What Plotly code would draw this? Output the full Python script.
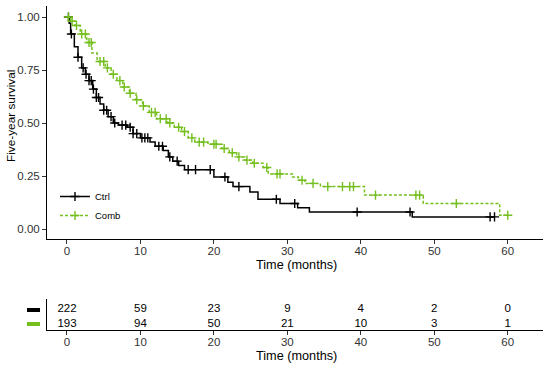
import plotly.graph_objects as go

# ---------------- data ----------------
groups = ["Ctrl", "Comb"]
colors = {"Ctrl": "#000000", "Comb": "#74BF1E"}

# Kaplan-Meier steps: event times (months) and survival after each drop
ctrl_times = [0.3, 0.5, 1.0, 1.5, 2.0, 2.5, 3.0, 3.5, 4.0, 4.5, 5.0, 5.6, 6.3, 7.0, 8.2, 9.0, 10.0,
              11.3, 12.0, 13.1, 13.8, 14.4, 15.2, 16.0, 20.0, 21.9, 22.6, 24.9, 26.0, 29.0, 31.4, 33.0, 47.0]
ctrl_surv = [0.97, 0.92, 0.86, 0.81, 0.76, 0.73, 0.70, 0.66, 0.62, 0.59, 0.56, 0.53, 0.50, 0.49, 0.48, 0.45, 0.43,
             0.41, 0.39, 0.37, 0.34, 0.32, 0.30, 0.28, 0.245, 0.22, 0.20, 0.175, 0.14, 0.12, 0.10, 0.08, 0.057]
ctrl_end = 58.2
ctrl_censor = [0.2, 0.6, 1.5, 2.2, 2.6, 3.0, 3.3, 3.6, 4.0, 4.3, 5.0, 5.4, 6.0, 6.5, 7.5, 8.0, 8.6, 9.0, 9.5,
               10.2, 10.6, 11.0, 12.5, 13.0, 14.0, 15.0, 16.5, 17.5, 19.5, 21.5, 23.4, 28.5, 31.0, 39.5, 46.7,
               57.6, 58.2]

comb_times = [0.5, 1.1, 1.8, 2.7, 3.4, 4.1, 5.2, 6.0, 6.8, 7.6, 8.5, 9.4, 10.3, 11.2, 12.2, 13.7, 14.6, 15.6,
              16.5, 17.4, 19.2, 21.1, 22.1, 23.1, 24.2, 25.3, 26.7, 27.4, 30.7, 31.5, 32.4, 34.5, 40.5, 48.5, 58.9]
comb_surv = [0.98, 0.96, 0.92, 0.88, 0.83, 0.79, 0.76, 0.73, 0.70, 0.67, 0.64, 0.61, 0.58, 0.55, 0.52, 0.50, 0.48,
             0.46, 0.43, 0.41, 0.40, 0.38, 0.36, 0.34, 0.325, 0.31, 0.29, 0.26, 0.245, 0.23, 0.215, 0.20, 0.16,
             0.12, 0.065]
comb_end = 60.0
comb_censor = [0.2, 0.7, 1.3, 2.0, 2.5, 3.0, 3.3, 4.5, 5.0, 5.5, 6.3, 7.2, 7.8, 8.6, 9.5, 10.4, 11.5, 12.0,
               12.7, 13.5, 14.0, 15.2, 16.0, 17.0, 18.0, 18.6, 20.0, 20.3, 21.4, 22.5, 23.4, 24.5, 25.5, 27.2,
               28.6, 29.0, 32.0, 33.5, 35.5, 37.5, 38.5, 39.0, 42.0, 47.5, 48.0, 53.0, 60.0]

# number at risk table
risk_times = [0, 10, 20, 30, 40, 50, 60]
ctrl_risk = [222, 59, 23, 9, 4, 2, 0]
comb_risk = [193, 94, 50, 21, 10, 3, 1]

x_ticks = [0, 10, 20, 30, 40, 50, 60]
y_ticks = [0.0, 0.25, 0.5, 0.75, 1.0]
y_ticklabels = ["0.00", "0.25", "0.50", "0.75", "1.00"]

series = {
    "Ctrl": (ctrl_times, ctrl_surv, ctrl_end, ctrl_censor, ctrl_risk, "solid"),
    "Comb": (comb_times, comb_surv, comb_end, comb_censor, comb_risk, "3px,2px"),
}


def surv_at(times, surv, t):
    s = 1.0
    for ti, si in zip(times, surv):
        if ti <= t:
            s = si
    return s


W, H = 550, 368


def px(x):
    return x / W


def py(y):
    return min(1.0, max(0.0, 1 - y / H))


fig = go.Figure()
FONT = "Liberation Sans, Arial, sans-serif"
MSIZE = 6.5

for g in groups:
    times, surv, end, cens, risk, dash = series[g]
    c = colors[g]
    xs = [0] + times + [end]
    ys = [1.0] + surv + [surv[-1]]
    fig.add_trace(go.Scatter(x=xs, y=ys, mode="lines", line=dict(color=c, width=1.5, dash=dash, shape="hv"),
                             showlegend=False, hoverinfo="skip", cliponaxis=False))
    fig.add_trace(go.Scatter(x=cens, y=[surv_at(times, surv, t) for t in cens], mode="markers",
                             marker=dict(symbol="cross-thin", size=MSIZE, line=dict(color=c, width=1.4)),
                             showlegend=False, cliponaxis=False))
    # legend entry
    fig.add_trace(go.Scatter(x=[None], y=[None], mode="lines+markers", name=g,
                             line=dict(color=c, width=1.5, dash=dash),
                             marker=dict(symbol="cross-thin", size=MSIZE, line=dict(color=c, width=1.4))))

# risk table
row_y = {"Ctrl": 2, "Comb": 1}
for g in groups:
    fig.add_trace(go.Scatter(x=risk_times, y=[row_y[g]] * len(risk_times), mode="text",
                             text=[str(v) for v in series[g][4]], textposition="middle center",
                             textfont=dict(size=11.5, color="#000000", family=FONT),
                             xaxis="x2", yaxis="y2", showlegend=False, hoverinfo="skip"))

xdom = [px(47), px(543)]
xrng = [-2.72, 64.8]

# main y scale: 1.00 at pixel 17, 0.00 at pixel 229
y_bottom_px = 239.3
y_top_px = 6.1
yrng = [(229 - y_bottom_px) / 212, (229 - y_top_px) / 212]

axis_common = dict(showline=True, linecolor="#000000", linewidth=1, ticks="outside", ticklen=4,
                   tickcolor="#333333", tickwidth=1, showgrid=False, zeroline=False, automargin=False,
                   tickfont=dict(size=11.5, color="#333333", family=FONT))
xaxis_extra = dict(ticklabelstandoff=-3)
title_font = dict(size=12.7, color="#000000", family=FONT)

fig.update_layout(
    width=W, height=H,
    margin=dict(l=0, r=0, t=0, b=0),
    paper_bgcolor="white", plot_bgcolor="white",
    font=dict(family=FONT),
    xaxis=dict(domain=xdom, range=xrng, tickvals=x_ticks, anchor="y", **axis_common, **xaxis_extra),
    yaxis=dict(domain=[py(y_bottom_px), py(y_top_px)], range=yrng, tickvals=y_ticks,
               ticktext=y_ticklabels, anchor="x", **axis_common),
    xaxis2=dict(domain=xdom, range=xrng, tickvals=x_ticks, anchor="y2", **axis_common, **xaxis_extra),
    yaxis2=dict(domain=[py(330), py(299)], range=[0.571, 2.714], anchor="x2",
                showline=True, linecolor="#000000", linewidth=1, showticklabels=False, ticks="",
                showgrid=False, zeroline=False, automargin=False),
    legend=dict(x=px(55), y=py(182), xanchor="left", yanchor="top", bgcolor="rgba(0,0,0,0)",
                font=dict(size=9.5, color="#000000", family=FONT), itemwidth=30, tracegroupgap=0),
    annotations=[
        dict(text="Five-year survival", xref="paper", yref="paper", x=px(11), y=py(116),
             textangle=-90, showarrow=False, font=dict(size=11.8, color="#000000", family=FONT),
             xanchor="center", yanchor="middle"),
        dict(text="Time (months)", xref="paper", yref="paper", x=px(296), y=py(265),
             showarrow=False, font=title_font, xanchor="center", yanchor="middle"),
        dict(text="Time (months)", xref="paper", yref="paper", x=px(296), y=py(356),
             showarrow=False, font=title_font, xanchor="center", yanchor="middle"),
    ],
    shapes=[
        dict(type="rect", xref="paper", yref="paper", x0=px(27), x1=px(40),
             y0=py(312), y1=py(308), fillcolor=colors["Ctrl"], line=dict(width=0)),
        dict(type="rect", xref="paper", yref="paper", x0=px(27), x1=px(40),
             y0=py(326), y1=py(322), fillcolor=colors["Comb"], line=dict(width=0)),
    ],
)

# remove the browser's default 8px body margin so the figure fills the 550x368 window exactly
fig.write_html("out.html", config={"displayModeBar": False},
               post_script="document.body.style.margin='0';")
